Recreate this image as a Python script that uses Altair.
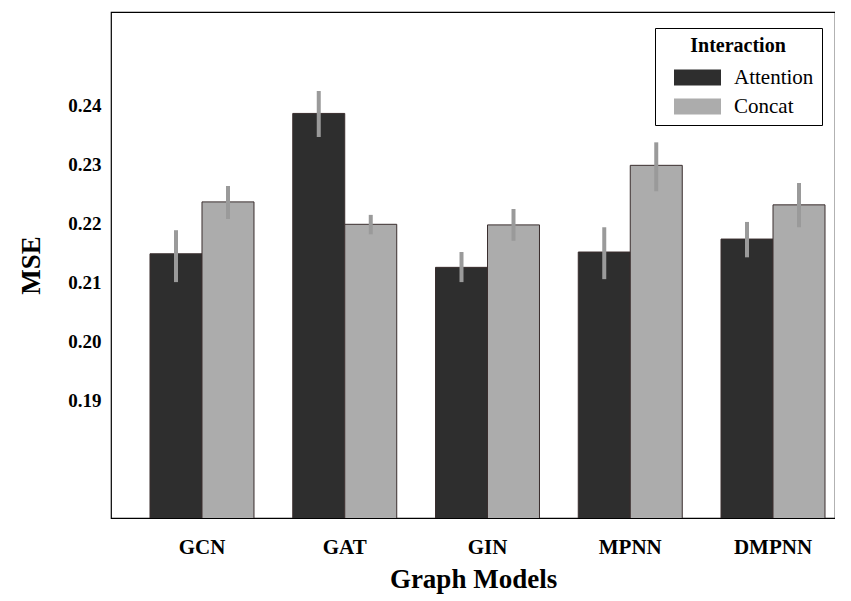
import altair as alt
import pandas as pd

models = ["GCN", "GAT", "GIN", "MPNN", "DMPNN"]
interactions = ["Attention", "Concat"]
attention_mse = [0.2148, 0.2386, 0.2125, 0.2151, 0.2173]
attention_lo = [0.2100, 0.2346, 0.2100, 0.2105, 0.2142]
attention_hi = [0.2188, 0.2424, 0.2151, 0.2193, 0.2202]
concat_mse = [0.2236, 0.2198, 0.2197, 0.2298, 0.2231]
concat_lo = [0.2207, 0.2181, 0.2170, 0.2254, 0.2193]
concat_hi = [0.2263, 0.2214, 0.2224, 0.2337, 0.2268]
y_ticks = [0.19, 0.20, 0.21, 0.22, 0.23, 0.24]

rows = []
for i, m in enumerate(models):
    rows.append({"model": m, "Interaction": "Attention", "mse": attention_mse[i],
                 "lo": attention_lo[i], "hi": attention_hi[i]})
    rows.append({"model": m, "Interaction": "Concat", "mse": concat_mse[i],
                 "lo": concat_lo[i], "hi": concat_hi[i]})
df = pd.DataFrame(rows)

FONT = "Liberation Serif"

x_enc = alt.X("model:N", sort=models, title="Graph Models",
              scale=alt.Scale(paddingInner=0.2715, paddingOuter=0.1716, align=0.796),
              axis=alt.Axis(labelAngle=0, labelFont=FONT, labelFontSize=21, labelFontWeight="bold",
                            labelColor="black", labelPadding=18, ticks=False, domain=False,
                            titleFont=FONT, titleFontSize=27, titleFontWeight="bold",
                            titleColor="black", titlePadding=9))
xoff = alt.XOffset("Interaction:N", sort=interactions,
                   scale=alt.Scale(paddingInner=0, paddingOuter=0))

bars = alt.Chart(df).mark_bar(stroke="#3a2e2e", strokeWidth=1, clip=True).encode(
    x=x_enc,
    xOffset=xoff,
    y=alt.Y("mse:Q", title="MSE",
            scale=alt.Scale(domain=[0.17, 0.2558], zero=False, nice=False),
            axis=alt.Axis(values=y_ticks, format=".2f", grid=False, ticks=False, domain=False,
                          labelFont=FONT, labelFontSize=19, labelFontWeight="bold",
                          labelColor="black", labelPadding=10,
                          titleFont=FONT, titleFontSize=27, titleFontWeight="bold",
                          titleColor="black", titlePadding=22)),
    color=alt.Color("Interaction:N", sort=interactions,
                    scale=alt.Scale(domain=interactions, range=["#2e2e2e", "#acacac"]),
                    legend=alt.Legend(orient="none", legendX=544, legendY=16,
                                      title="Interaction", titleFont=FONT, titleFontSize=20,
                                      titleFontWeight="bold", titleColor="black",
                                      titleAnchor="middle", titlePadding=11,
                                      labelFont=FONT, labelFontSize=21, labelColor="black",
                                      labelOffset=26, symbolOffset=24,
                                      labelExpr="datum.label + '  '",
                                      symbolType="M-2.35,-0.8L2.35,-0.8L2.35,0.8L-2.35,0.8Z",
                                      symbolSize=400, symbolStrokeWidth=0, symbolOpacity=1,
                                      rowPadding=7,
                                      strokeColor="black", fillColor="white", padding=8,
                                      cornerRadius=0)),
)

errs = alt.Chart(df).mark_rule(color="#9a9a9a", strokeWidth=4).encode(
    x=alt.X("model:N", sort=models),
    xOffset=xoff,
    y="lo:Q",
    y2="hi:Q",
)

chart = alt.layer(bars, errs).properties(
    width=724, height=506,
    background="white",
    autosize=alt.AutoSizeParams(type="none"),
    padding={"left": 103, "top": 4, "right": 0, "bottom": 80},
).configure_view(stroke="black", strokeWidth=1.2)

chart.save("out.html", embed_options={"renderer": "svg", "actions": False})
